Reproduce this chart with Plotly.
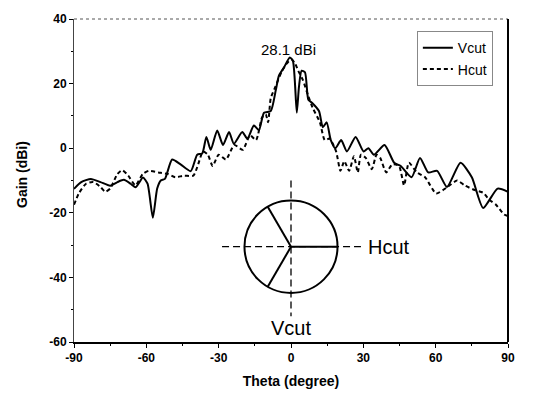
import plotly.graph_objects as go

# ---- data ----
v_theta = [-90, -87, -83, -79, -75, -72, -69.3, -66.5, -64.4, -61.4, -59.5, -57.3, -55.5, -54, -52.3,
           -49.3, -45.8, -41.6, -38.9, -36.8, -35.1, -33.3, -30.6, -28.2, -25.7, -23.7, -20.2, -18.1,
           -15.4, -13.3, -11.2, -8.4, -6.3, -5, -2.9, -0.5, 0.8, 2.4, 3.3, 4.4, 5.8, 7.2, 8.8, 11.6,
           13.2, 14.8, 16.5, 18.4, 20.8, 23.2, 26.8, 30.1, 32.1, 34.4, 38.8, 42.8, 45.5, 50, 53.5,
           56.9, 60.6, 64.7, 70.3, 75, 79.7, 85.7, 90]
v_gain = [-12.6, -10.5, -9.5, -10.5, -11.6, -10.5, -9.8, -11, -12.1, -9.1, -11, -21.5, -12.5, -10, -9.5,
          -3.5, -5, -7.1, -2, -1.6, 3.5, -0.5, 5.5, 1, 5, 1.4, 5, 2.9,
          7, 5.6, 11, 11.5, 18, 22.5, 25, 28.1, 27, 11, 19, 24, 23.5, 15, 14, 11.5,
          6.5, 8, 2.5, 0, 2.5, -1, 3.5, -1, 0, -2, 1, -4.5, -5.5, -9, -3,
          -7.5, -7, -12, -4.5, -9, -18.5, -12.5, -13.5]

h_theta = [-90, -88, -85, -82, -79, -77, -75, -72, -70, -67.5, -64.5, -61.5, -59, -55, -51, -48,
           -44.5, -40.5, -38.5, -36.5, -34.5, -32.5, -30, -27, -23.5, -20, -17, -14.5, -12, -10.5,
           -9.5, -8.4, -6.5, -4, -2, 0, 1.5, 3, 5, 7, 9, 12, 14, 16, 18.7, 20.5, 22.1, 24.1, 26.1,
           27.7, 29, 31, 33.5, 35.5, 37, 39.5, 42, 44.8, 46.9, 48.9, 52.2, 55.6, 60.2, 64.9, 68.9,
           72, 76.3, 79.7, 82.3, 85, 88.4, 90]
h_gain = [-17.5, -14, -11, -10.5, -12, -13.5, -12.5, -8, -6.8, -8.5, -11.5, -8, -7, -7.5, -8, -9,
          -8.5, -8.5, -5, -1, -2, -5.5, -2, -3.5, 1, -0.5, 4, 2.5, 9.5, 10.5,
          8, 15.5, 19, 23.5, 26, 27.5, 26.5, 24, 21, 16.5, 12.5, 8, 2.5, 3, -1, -7, -4, -7, -2.5,
          -7.5, -2, -3, -6.5, -2, -3, -7.5, -5, -5.5, -11.5, -4.5, -7.5, -9, -14, -12, -10,
          -11.5, -13, -13.8, -16, -17.5, -20.5, -21]

x_ticks = [-90, -60, -30, 0, 30, 60, 90]
x_ticktext = ["-90", "-60", "-30", "0", "30", "60", "90"]
y_ticks = [-60, -40, -20, 0, 20, 40]
y_ticktext = ["-60", "-40", "-20", "0", "20", "40"]

peak_label = "28.1 dBi"

fig = go.Figure()
fig.add_trace(go.Scatter(x=v_theta, y=v_gain, mode="lines", name="Vcut",
                         line=dict(color="black", width=2, shape="spline", smoothing=0.6)))
fig.add_trace(go.Scatter(x=h_theta, y=h_gain, mode="lines", name="Hcut",
                         line=dict(color="black", width=2, dash="4px,3px", shape="spline", smoothing=0.6)))

# inset: cut-plane sketch
cx, cy, rx, ry = 0, -30.5, 19.3, 14.3
shapes = [
    dict(type="line", x0=-28.6, x1=29, y0=cy, y1=cy, line=dict(color="black", width=1.3, dash="7px,4px")),
    dict(type="line", x0=0, x1=0, y0=-10, y1=-52, line=dict(color="black", width=1.3, dash="7px,4px")),
    dict(type="circle", x0=cx - rx, x1=cx + rx, y0=cy - ry, y1=cy + ry, line=dict(color="black", width=2)),
    dict(type="line", x0=cx, y0=cy, x1=cx + rx, y1=cy, line=dict(color="black", width=2)),
    dict(type="line", x0=cx, y0=cy, x1=cx - rx * 0.5, y1=cy + ry * 0.866, line=dict(color="black", width=2)),
    dict(type="line", x0=cx, y0=cy, x1=cx - rx * 0.5, y1=cy - ry * 0.866, line=dict(color="black", width=2)),
    # frame
    dict(type="line", xref="paper", yref="paper", x0=0, x1=1, y0=1, y1=1, line=dict(color="#555", width=1, dash="dot")),
    dict(type="line", xref="paper", yref="paper", x0=1, x1=1, y0=0, y1=1, line=dict(color="black", width=2)),
]

annotations = [
    dict(x=-1.2, y=30.5, text=peak_label, showarrow=False, font=dict(size=15, color="black")),
    dict(x=31.1, y=cy, text="Hcut", showarrow=False, xanchor="left", font=dict(size=20, color="black")),
    dict(x=0, y=-55.7, text="Vcut", showarrow=False, font=dict(size=20, color="black")),
    dict(xref="paper", yref="paper", x=-0.12, y=0.52, text="<b>Gain (dBi)</b>", showarrow=False, textangle=-90,
         xanchor="center", yanchor="middle", font=dict(size=14, color="black")),
]

fig.update_layout(
    width=540, height=399,
    margin=dict(l=74, r=32, t=12, b=56),
    paper_bgcolor="white", plot_bgcolor="white",
    font=dict(family="Arial, Liberation Sans, sans-serif", color="black", size=12),
    shapes=shapes, annotations=annotations,
    legend=dict(x=0.79, y=0.962, xanchor="left", yanchor="top", bgcolor="white",
                bordercolor="#888", borderwidth=1, font=dict(size=14), tracegroupgap=0,
                itemwidth=30),
    xaxis=dict(range=[-90, 90], tickvals=x_ticks, ticktext=x_ticktext, ticks="outside", ticklen=4,
               tickcolor="black", tickfont=dict(size=12, weight="bold"),
               showline=True, linecolor="black", linewidth=1.5, showgrid=False, zeroline=False,
               minor=dict(tickvals=[-75, -45, -15, 15, 45, 75], ticks="outside", ticklen=2, tickcolor="black"),
               title=dict(text="<b>Theta (degree)</b>", font=dict(size=14), standoff=12)),
    yaxis=dict(range=[-60, 40], tickvals=y_ticks, ticktext=y_ticktext, ticks="outside", ticklen=4,
               tickcolor="black", tickfont=dict(size=12, weight="bold"),
               showline=True, linecolor="#444", linewidth=1, showgrid=False, zeroline=False,
               minor=dict(tickvals=[-50, -30, -10, 10, 30], ticks="outside", ticklen=2, tickcolor="black")),
)

fig.write_html("out.html")
